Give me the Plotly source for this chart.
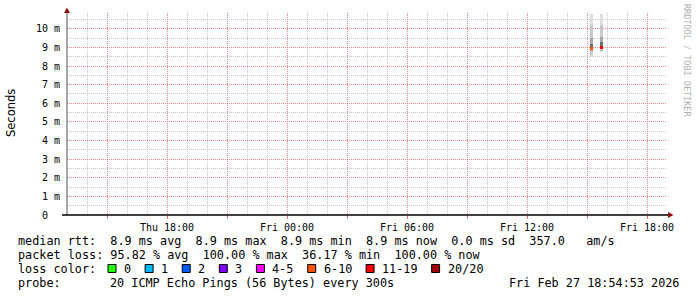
import plotly.graph_objects as go

# ---------------- data ----------------
column_times = ["2026-02-27 15:12:00", "2026-02-27 15:43:00"]
column_pings_ms = [
    [8.47, 8.62, 8.80, 8.90, 8.96, 9.19, 9.52, 10.23, 10.77],
    [8.74, 8.80, 8.89, 8.94, 8.98, 9.07, 9.30, 9.55, 10.23, 10.77],
]
column_median_ms = [8.96, 8.98]
column_loss = [8, 13]

x_range = ["2026-02-26 13:00:00", "2026-02-27 19:00:00"]
x_tick_times = ["2026-02-26 15:00", "2026-02-26 18:00", "2026-02-26 21:00",
                "2026-02-27 00:00", "2026-02-27 03:00", "2026-02-27 06:00",
                "2026-02-27 09:00", "2026-02-27 12:00", "2026-02-27 15:00",
                "2026-02-27 18:00"]
x_tick_labels = ["", "Thu 18:00", "", "Fri 00:00", "", "Fri 06:00", "",
                 "Fri 12:00", "", "Fri 18:00"]
y_tick_ms = [0, 1, 2, 3, 4, 5, 6, 7, 8, 9, 10]
y_tick_labels = ["0", "1 m", "2 m", "3 m", "4 m", "5 m", "6 m", "7 m", "8 m", "9 m", "10 m"]

loss_labels = ["0", "1", "2", "3", "4-5", "6-10", "11-19", "20/20"]
loss_upper = [0, 1, 2, 3, 5, 10, 19, 20]
loss_colors = ["#26ff00", "#00b8ff", "#0059ff", "#7e00ff", "#ff00ff", "#ff5500", "#ff0000", "#a00000"]

rtt_line = "median rtt:  8.9 ms avg  8.9 ms max  8.9 ms min  8.9 ms now  0.0 ms sd  357.0   am/s"
loss_line = "packet loss: 95.82 % avg  100.00 % max  36.17 % min  100.00 % now"
loss_title = "loss color:"
probe_label = "probe:"
probe_text = "20 ICMP Echo Pings (56 Bytes) every 300s"
timestamp_text = "Fri Feb 27 18:54:53 2026"
y_title = "Seconds"
watermark = "RRDTOOL / TOBI OETIKER"

# ---------------- layout geometry ----------------
W_FIG, H_FIG = 697, 297
L, R, T, B = 67, 30, 13, 82
PW = W_FIG - L - R
PH = H_FIG - T - B
Y_BOTTOM = T + PH
LINE_Y = [241, 255, 268.5, 283]


def pxx(px):
    return (px - L) / PW


def pxy(py):
    return (Y_BOTTOM - py) / PH


def nb(s):
    return s.replace(" ", "\u00a0")


MONO = "DejaVu Sans Mono"
FOOT = dict(family=MONO, size=11.8, color="#000")
smoke_shades = ["#dedede", "#c9c9c9", "#a9a9a9", "#6e6e6e", "#4a4a4a"]
bar_width_ms = 9 * 60 * 1000

fig = go.Figure()

# smoke
for t, pings in zip(column_times, column_pings_ms):
    n = len(pings)
    for i in range(n // 2):
        lo, hi = pings[i], pings[n - 1 - i]
        fig.add_trace(go.Bar(
            x=[t], y=[(hi - lo) * 1e-3], base=[lo * 1e-3], width=bar_width_ms,
            marker=dict(color=smoke_shades[min(i, len(smoke_shades) - 1)], line=dict(width=0)),
            showlegend=False, hoverinfo="skip"))


def loss_color(v):
    for up, c in zip(loss_upper, loss_colors):
        if v <= up:
            return c
    return loss_colors[-1]


# median markers
for t, med, loss in zip(column_times, column_median_ms, column_loss):
    fig.add_trace(go.Bar(
        x=[t], y=[0.16e-3], base=[(med - 0.08) * 1e-3], width=bar_width_ms,
        marker=dict(color=loss_color(loss), line=dict(width=0)),
        showlegend=False, hoverinfo="skip"))

major_grid = "rgba(235,120,120,0.75)"
minor_grid = "rgba(175,175,175,0.7)"

fig.update_layout(
    width=W_FIG, height=H_FIG,
    margin=dict(l=L, r=R, t=T, b=B, pad=0),
    paper_bgcolor="white", plot_bgcolor="white",
    barmode="overlay", bargap=0,
    showlegend=False,
    xaxis=dict(
        type="date", range=x_range, tickmode="array",
        tickvals=x_tick_times, ticktext=[nb(s) for s in x_tick_labels],
        tickfont=dict(family=MONO, size=10, color="#000"),
        ticks="outside", ticklen=3, tickcolor="rgba(220,80,80,0.8)", tickwidth=1,
        showgrid=True, gridcolor=major_grid, griddash="1px,1px", gridwidth=1,
        minor=dict(dtick=3600000, tick0="2026-02-26 13:00", showgrid=True,
                   gridcolor=minor_grid, griddash="1px,1px", gridwidth=1, ticks=""),
        showline=False, zeroline=False, fixedrange=True,
    ),
    yaxis=dict(
        range=[0, 10.85e-3], tickmode="array",
        tickvals=[v * 1e-3 for v in y_tick_ms],
        ticktext=[nb(s if s.endswith("m") else s + "  ") for s in y_tick_labels],
        tickfont=dict(family=MONO, size=10, color="#000"),
        ticks="", ticklabelstandoff=6,
        showgrid=True, gridcolor=major_grid, griddash="1px,1px", gridwidth=1,
        minor=dict(dtick=0.5e-3, tick0=0, showgrid=True, gridcolor=minor_grid,
                   griddash="1px,1px", gridwidth=1, ticks=""),
        showline=False, zeroline=False, fixedrange=True,
    ),
)

shapes = []
shapes.append(dict(type="line", xref="paper", yref="paper", x0=0, x1=0, y0=0, y1=1,
                   line=dict(color="#555555", width=1)))
shapes.append(dict(type="line", xref="paper", yref="paper", x0=pxx(62), x1=pxx(669), y0=0, y1=0,
                   line=dict(color="#000000", width=1.5)))
shapes.append(dict(type="path", xref="paper", yref="paper",
                   path=f"M {pxx(64)},{pxy(13)} L {pxx(70)},{pxy(13)} L {pxx(67)},{pxy(7.5)} Z",
                   fillcolor="#8b1010", line=dict(width=0)))
shapes.append(dict(type="path", xref="paper", yref="paper",
                   path=f"M {pxx(668)},{pxy(212)} L {pxx(668)},{pxy(218)} L {pxx(673.5)},{pxy(215)} Z",
                   fillcolor="#8b1010", line=dict(width=0)))

annotations = []


def foot(text, px, py, anchor="left"):
    annotations.append(dict(xref="paper", yref="paper", x=pxx(px), y=pxy(py), text=nb(text),
                            showarrow=False, xanchor=anchor, yanchor="middle", font=FOOT))


foot(rtt_line, 16, LINE_Y[0])
foot(loss_line, 16, LINE_Y[1])
foot(loss_title, 16, LINE_Y[2])
CHAR_W = 7.1
bx = 108
for lab, col in zip(loss_labels, loss_colors):
    shapes.append(dict(type="rect", xref="paper", yref="paper",
                       x0=pxx(bx), x1=pxx(bx + 8), y0=pxy(LINE_Y[2] + 4), y1=pxy(LINE_Y[2] - 4),
                       fillcolor=col, line=dict(color="#000", width=1)))
    foot(lab, bx + 14, LINE_Y[2])
    bx = bx + 15 + len(lab) * CHAR_W + 15
foot(probe_label, 16, LINE_Y[3])
foot(probe_text, 108, LINE_Y[3])
foot(timestamp_text, 681, LINE_Y[3], anchor="right")

annotations.append(dict(xref="paper", yref="paper", x=pxx(11), y=pxy(113), text=y_title,
                        showarrow=False, textangle=-90, xanchor="center", yanchor="middle",
                        font=dict(family="DejaVu Sans", size=11.5, color="#000")))
annotations.append(dict(xref="paper", yref="paper", x=pxx(687), y=pxy(60), text=nb(watermark),
                        showarrow=False, textangle=90, xanchor="center", yanchor="middle",
                        font=dict(family=MONO, size=8.5, color="#b0b0b0")))

fig.update_layout(shapes=shapes, annotations=annotations)
fig.write_html("out.html")
